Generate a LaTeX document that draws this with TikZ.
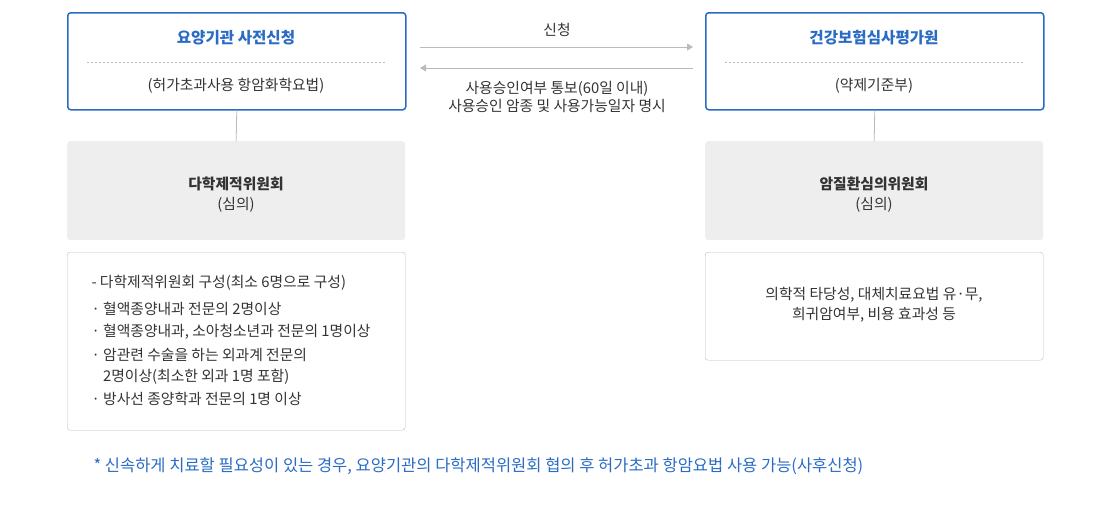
\documentclass[tikz,border=0pt]{standalone}
\usepackage{fontspec}
\usetikzlibrary{arrows.meta}
\setmainfont{Noto Sans CJK KR}
\definecolor{bl}{HTML}{2A6CC4}
\definecolor{gr}{HTML}{EEEEEE}
\definecolor{bd}{HTML}{BBBBBB}
\definecolor{tx}{HTML}{333333}
\definecolor{ar}{HTML}{BBBBBB}
\begin{document}
\begin{tikzpicture}[x=1pt,y=-1pt,font=\fontsize{14.8}{20}\selectfont,text=tx,
 topbox/.style={draw=bl,line width=1.5pt,rounded corners=3pt,minimum width=338pt,minimum height=97pt,anchor=north west,fill=white},
 graybox/.style={fill=gr,rounded corners=3pt,minimum width=338pt,minimum height=99pt,anchor=north west},
 whitebox/.style={draw=bd,rounded corners=3pt,anchor=north west,minimum width=338pt},
 conn/.style={draw=bd,line width=0.8pt},
 arr/.style={draw=ar,line width=0.8pt,-{Triangle[length=6pt,width=7pt]}}]
\useasboundingbox (0,0) rectangle (1110,509);
\node[topbox] (lt) at (67,12) {};
\node[topbox] (rt) at (705,12) {};
\node[font=\fontsize{15.6}{18}\selectfont\bfseries,text=bl] (ltt) at (236,38) {요양기관 사전신청};
\node (lts) at (236,86) {(허가초과사용 항암화학요법)};
\node[font=\fontsize{15.6}{18}\selectfont\bfseries,text=bl] (rtt) at (874,38) {건강보험심사평가원};
\node (rts) at (874,86) {(약제기준부)};
\draw[bd,dashed,dash pattern=on 2pt off 2pt] (87,62) -- (385,62);
\draw[bd,dashed,dash pattern=on 2pt off 2pt] (725,62) -- (1023,62);
\node[graybox] (lg) at (67,141) {};
\node[graybox] (rg) at (705,141) {};
\node[align=center] (lgt) at (236,195) {\textbf{다학제적위원회}\\(심의)};
\node[align=center] (rgt) at (874,195) {\textbf{암질환심의위원회}\\(심의)};
\draw[conn] (lt.south) -- (lg.north);
\draw[conn] (rt.south) -- (rg.north);
\node[whitebox,minimum height=178pt] (lw) at (67,252) {};
\node[whitebox,minimum height=108pt] (rw) at (705,252) {};
\node[anchor=west] (l1) at (88,283) {- 다학제적위원회 구성(최소 6명으로 구성)};
\node[anchor=west] (l2) at (88,309) {· 혈액종양내과 전문의 2명이상};
\node[anchor=west] (l3) at (88,332) {· 혈액종양내과, 소아청소년과 전문의 1명이상};
\node[anchor=west] (l4) at (88,355) {· 암관련 수술을 하는 외과계 전문의};
\node[anchor=west] (l5) at (88,377) {\hphantom{· }2명이상(최소한 외과 1명 포함)};
\node[anchor=west] (l6) at (88,399) {· 방사선 종양학과 전문의 1명 이상};
\node[align=center] (rwt) at (874,305) {의학적 타당성, 대체치료요법 유·무,\\희귀암여부, 비용 효과성 등};
\coordinate (a1s) at (420,47); \coordinate (a1e) at (693,47);
\coordinate (a2s) at (693,68); \coordinate (a2e) at (420,68);
\draw[arr] (a1s) -- (a1e);
\draw[arr] (a2s) -- (a2e);
\node (al1) at (557,30) {신청};
\node[align=center,font=\fontsize{14.8}{18}\selectfont] (al2) at (557,97) {사용승인여부 통보(60일 이내)\\사용승인 암종 및 사용가능일자 명시};
\node[anchor=west,text=bl,font=\fontsize{16.5}{20}\selectfont] (fn) at (90,466) {* 신속하게 치료할 필요성이 있는 경우, 요양기관의 다학제적위원회 협의 후 허가초과 항암요법 사용 가능(사후신청)};
\end{tikzpicture}
\end{document}
